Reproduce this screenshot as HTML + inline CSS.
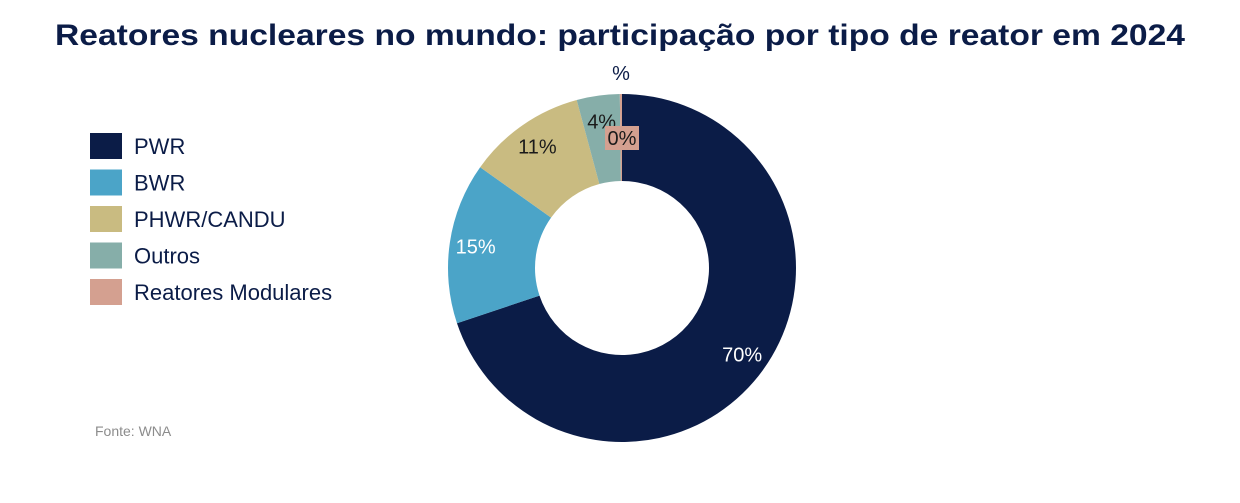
<!DOCTYPE html>
<html><head><meta charset="utf-8"><style>
body{margin:0;width:1240px;height:498px;background:#fff;overflow:hidden;font-family:"Liberation Sans",sans-serif;}
</style></head><body>
<svg width="1240" height="498">
<text x="620" y="45" text-anchor="middle" font-size="30" font-weight="bold" fill="#0b1c47" textLength="1130" lengthAdjust="spacingAndGlyphs">Reatores nucleares no mundo: participação por tipo de reator em 2024</text>
<text x="621" y="80" text-anchor="middle" font-size="20" fill="#0b1c47">%</text>
<g id="slices"></g>
<g id="labels"></g>
<g id="legend"></g>
<text x="95" y="436" font-size="14" fill="#8c8c8c">Fonte: WNA</text>
</svg>
<script>
const categories=["PWR","BWR","PHWR/CANDU","Outros","Reatores Modulares"];
const values=[70,15,11,4,0.2];
const valueLabels=["70%","15%","11%","4%","0%"];
const colors=["#0b1c47","#4ba4c8","#c9bb81","#86aea9","#d4a090"];
const NS="http://www.w3.org/2000/svg";
const cx=622,cy=268,R=174,r=87;
const total=values.reduce((a,b)=>a+b,0);
function pt(a,rad){return [cx+rad*Math.sin(a),cy-rad*Math.cos(a)];}
const gs=document.getElementById('slices'),gl=document.getElementById('labels'),gg=document.getElementById('legend');
let acc=0;
values.forEach((v,i)=>{
  const a0=acc/total*2*Math.PI; acc+=v; const a1=acc/total*2*Math.PI;
  const big=(a1-a0)>Math.PI?1:0;
  const [x0,y0]=pt(a0,R),[x1,y1]=pt(a1,R),[x2,y2]=pt(a1,r),[x3,y3]=pt(a0,r);
  const p=document.createElementNS(NS,'path');
  p.setAttribute('d',`M${x0},${y0}A${R},${R} 0 ${big} 1 ${x1},${y1}L${x2},${y2}A${r},${r} 0 ${big} 0 ${x3},${y3}Z`);
  p.setAttribute('fill',colors[i]);
  
  
  gs.appendChild(p);
  const am=(a0+a1)/2;
  const small=v<1;
  const [lx,ly]=small?pt(a1,130):pt(am,148);
  if(small){
    const bg=document.createElementNS(NS,'rect');
    bg.setAttribute('x',lx-17);bg.setAttribute('y',ly-12);bg.setAttribute('width',34);bg.setAttribute('height',24);
    bg.setAttribute('fill',colors[i]);
    
    
    gl.appendChild(bg);
  }
  const t=document.createElementNS(NS,'text');
  t.setAttribute('x',lx);t.setAttribute('y',ly+7);t.setAttribute('text-anchor','middle');
  t.setAttribute('font-size','20');
  t.setAttribute('fill',i<2?'#ffffff':'#1a1a1a');
  t.textContent=valueLabels[i];
  
  
  gl.appendChild(t);
  const y=133+i*36.5;
  const sw=document.createElementNS(NS,'rect');
  sw.setAttribute('x',90);sw.setAttribute('y',y);sw.setAttribute('width',32);sw.setAttribute('height',26);
  sw.setAttribute('fill',colors[i]);
  
  
  gg.appendChild(sw);
  const lt=document.createElementNS(NS,'text');
  lt.setAttribute('x',134);lt.setAttribute('y',y+21);lt.setAttribute('font-size','22');lt.setAttribute('fill','#0b1c47');
  lt.textContent=categories[i];
  
  
  gg.appendChild(lt);
});
</script>
</body></html>
